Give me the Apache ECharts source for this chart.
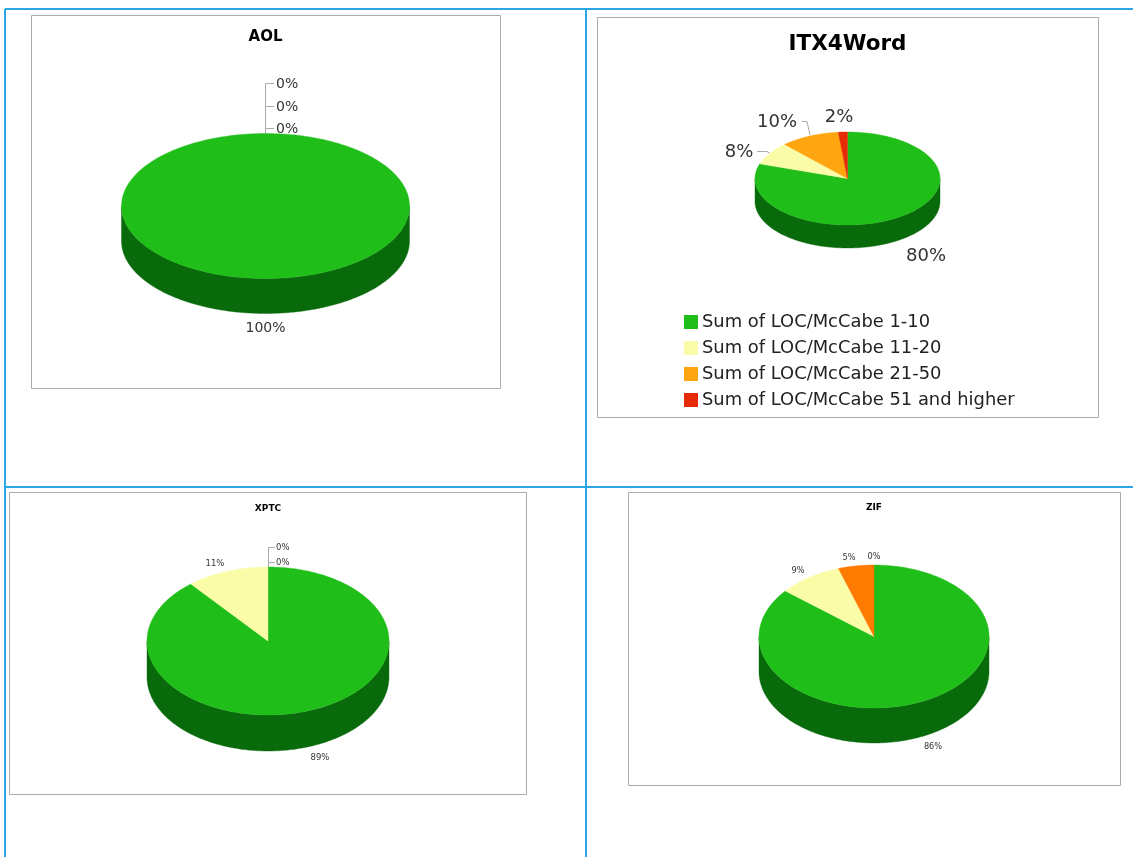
<!DOCTYPE html>
<html>
<head>
<meta charset="utf-8">
<style>html,body{margin:0;padding:0;background:#fff;overflow:hidden}#c{width:1133px;height:857px}</style>
<script src="https://cdn.jsdelivr.net/npm/echarts@6/dist/echarts.min.js"></script>
</head>
<body>
<div id="c"></div>
<script>
// ---- data ----
const categories = ['Sum of LOC/McCabe 1-10','Sum of LOC/McCabe 11-20','Sum of LOC/McCabe 21-50','Sum of LOC/McCabe 51 and higher'];
const aolValues  = [100, 0, 0, 0];
const itxValues  = [80.1, 8, 10.3, 1.6];
const xptcValues = [89, 11, 0, 0];
const zifValues  = [86, 9, 5, 0];

// ---- layout and styling ----
const FONT = '"DejaVu Sans", Verdana, sans-serif';
const palette = ['#20BE18','#FBFCA8','#FFA50F','#E52B05'];
const sidePalette = ['#086A0A','#B5B676','#B5750A','#A01F03'];
const pies = [
 {title:'AOL', values:aolValues, box:[31,15,469,373], cx:265.5, cy:206, rx:144, ry:72.5, depth:35, titleY:37, titleSize:15, labelSize:14,
  colors:palette, labels:[[265.5,328,'center'],[276,129,'left'],[276,107,'left'],[276,84,'left']],
  leaders:[null,[[265.5,134],[265.5,128.5],[274,128.5]],[[265.5,128.5],[265.5,106.5],[274,106.5]],[[265.5,106.5],[265.5,83.5],[274,83.5]]]},
 {title:'ITX4Word', values:itxValues, box:[597,17,501,400], cx:847.5, cy:178.5, rx:92.5, ry:46.5, depth:23, titleY:44, titleSize:21.5, labelSize:18,
  colors:palette, labels:[[926,256,'center'],[739,152,'center'],[777,122,'center'],[839,117,'center']],
  leaders:[null,[[757,151.5],[767,151.5],[771,154]],[[802,121.5],[807,121.5],[810,135]],null]},
 {title:'XPTC', values:xptcValues, box:[9,492,517,302], cx:268, cy:641, rx:121, ry:74, depth:36, titleY:509, titleSize:9, labelSize:8.5,
  colors:palette, labels:[[320,758,'center'],[215,564,'center'],[276,563,'left'],[276,548,'left']],
  leaders:[null,null,[[268.5,567],[268.5,562.5],[275,562.5]],[[268.5,562.5],[268.5,547.5],[275,547.5]]]},
 {title:'ZIF', values:zifValues, box:[628,492,492,293], cx:874, cy:636.5, rx:115, ry:71.5, depth:35, titleY:508, titleSize:9, labelSize:8.2,
  colors:['#20BE18','#FBFCA8','#FF7A00','#E52B05'], labels:[[933,747,'center'],[798,571,'center'],[849,558,'center'],[874,557,'center']],
  leaders:[null,null,null,null]}
];
const legendOrder = [1,0,2,3]; // ITX4Word first so that the legend takes its colours

function ellipsePoint(p, t, dy){ return [p.cx + p.rx*Math.sin(t), p.cy + (dy||0) - p.ry*Math.cos(t)]; }
function arcPoints(p, a, b, dy){
  const n = Math.max(2, Math.ceil((b-a)/0.015)), out=[];
  for(let i=0;i<=n;i++) out.push(ellipsePoint(p, a+(b-a)*i/n, dy));
  return out;
}
function makeRender(p, k){
  return function(params, api){
    const value = api.value(0), before = api.value(1);
    const a = echarts.number.linearMap(before, [0,100], [0,Math.PI*2], true);
    const b = echarts.number.linearMap(before+value, [0,100], [0,Math.PI*2], true);
    const kids = [];
    if(value>0){
      const fa = Math.max(a, Math.PI/2), fb = Math.min(b, Math.PI*1.5);
      if(fb>fa){
        kids.push({type:'polygon', shape:{points:arcPoints(p,fa,fb,0).concat(arcPoints(p,fa,fb,p.depth).reverse())},
          style:{fill:sidePalette[k], stroke:sidePalette[k], lineWidth:0.4}});
      }
      const pts = arcPoints(p,a,b,0);
      if(value<100) pts.push([p.cx,p.cy]);
      kids.push({type:'polygon', shape:{points:pts}, style:{fill:p.colors[k], stroke:p.colors[k], lineWidth:0.4}});
    }
    const lead = p.leaders[k];
    if(lead) kids.push({type:'polyline', z2:-1, shape:{points:lead}, style:{fill:null, stroke:'#aaaaaa', lineWidth:1}});
    const l = p.labels[k];
    kids.push({type:'text', z2:5, style:{x:l[0], y:l[1], text:Math.round(value)+'%', align:l[2], verticalAlign:'middle',
      font:p.labelSize+'px '+FONT, fill:'#333333'}});
    return {type:'group', children:kids};
  };
}
const series = [];
legendOrder.forEach(function(i){
  const p = pies[i];
  let cum = 0;
  p.values.forEach(function(v,k){
    series.push({type:'custom', name:categories[k], coordinateSystem:'none', silent:true, animation:false,
      clip:false, itemStyle:{color:p.colors[k]}, data:[[v,cum]], renderItem:makeRender(p,k)});
    cum += v;
  });
});

const graphic = [];
[[5,9,5,857],[586,9,586,857],[5,9,1133,9],[5,487,1133,487]].forEach(function(s){
  graphic.push({type:'line', silent:true, z:-1, shape:{x1:s[0],y1:s[1],x2:s[2],y2:s[3]}, style:{stroke:'#2BA6E6',lineWidth:2}});
});
pies.forEach(function(p){
  graphic.push({type:'rect', silent:true, z:-1, shape:{x:p.box[0]+0.5,y:p.box[1]+0.5,width:p.box[2],height:p.box[3]}, style:{fill:'#fff',stroke:'#ababab',lineWidth:1}});
});

const chart = echarts.init(document.getElementById('c'), null, {renderer:'canvas'});
chart.setOption({
  backgroundColor:'#ffffff',
  animation:false,
  graphic:graphic,
  title:pies.map(function(p){
    return {text:p.title, left:p.cx, top:p.titleY, textAlign:'center', textVerticalAlign:'middle', padding:0,
      textStyle:{fontFamily:FONT, fontWeight:'bold', fontSize:p.titleSize, color:'#000'}};
  }),
  legend:{orient:'vertical', left:684, top:312, padding:0, itemGap:6, itemWidth:14, itemHeight:14, icon:'rect', selectedMode:false,
    data:categories, textStyle:{fontFamily:FONT, fontSize:17.9, color:'#222', padding:[2,0,0,-1], lineHeight:18}},
  series:series
});
</script>
</body>
</html>
